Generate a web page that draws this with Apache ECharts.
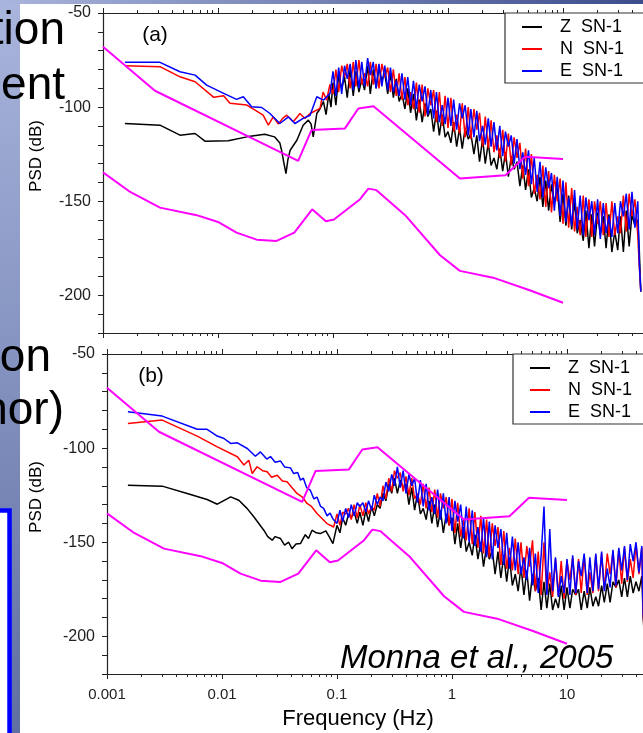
<!DOCTYPE html>
<html>
<head>
<meta charset="UTF-8">
<title>PSD SN-1</title>
<style>
  html, body { margin: 0; padding: 0; background: #fff; }
  #container { width: 643px; height: 733px; }
</style>
</head>
<body>
<div id="container"></div>
<script src="https://cdn.jsdelivr.net/npm/echarts@6/dist/echarts.min.js"></script>
<script>
// frequency samples (Hz) for the noisy part above 0.1 Hz
var hfFreq = [0.1,0.106,0.112,0.119,0.126,0.133,0.141,0.150,0.158,0.168,
  0.178,0.188,0.2,0.211,0.224,0.237,0.251,0.266,0.282,0.299,
  0.316,0.335,0.355,0.376,0.398,0.422,0.447,0.473,0.501,0.531,
  0.562,0.596,0.631,0.668,0.708,0.750,0.794,0.841,0.891,0.944,
  1.0,1.06,1.12,1.19,1.26,1.33,1.41,1.5,1.58,1.68,
  1.78,1.88,2.0,2.11,2.24,2.37,2.51,2.66,2.82,2.99,
  3.16,3.35,3.55,3.76,3.98,4.22,4.47,4.73,5.01,5.31,
  5.62,5.96,6.31,6.68,7.08,7.5,7.94,8.41,8.91,9.44,
  10,10.6,11.2,11.9,12.6,13.3,14.1,15,15.8,16.8,
  17.8,18.8,20,21.1,22.4,23.7,25.1,26.6,28.2,29.9,
  31.6,33.5,35.5,37.6,39.8,42.2,44.7,46.0,47.5];

// (a) low-frequency part [Hz, dB]
var zLowA = [[0.00155,-108.7],[0.00313,-109.6],[0.00467,-114.9],[0.00632,-114],[0.0077,-118.1],[0.0123,-117.9],[0.0178,-115.8],[0.0255,-114.4],[0.031,-115.8],[0.0345,-119],[0.0357,-122.9],[0.0375,-130],[0.039,-135.3],[0.0405,-128],[0.0424,-122.9],[0.0485,-117.6],[0.055,-109.6],[0.061,-106.9],[0.0645,-109],[0.0673,-115.8],[0.0723,-103.4],[0.077,-101],[0.0825,-97],[0.087,-104],[0.092,-93],[0.096,-100]];
var nLowA = [[0.00155,-78],[0.00313,-78.5],[0.00467,-83.9],[0.00632,-86.5],[0.0092,-94.8],[0.0112,-94],[0.0127,-98],[0.0178,-98.9],[0.021,-101.6],[0.0247,-104.3],[0.0274,-109.6],[0.0302,-105.2],[0.0335,-109],[0.0365,-106],[0.0396,-104.3],[0.0452,-107.8],[0.0516,-103.4],[0.057,-106],[0.0632,-103.4],[0.0771,-100.7],[0.082,-92],[0.088,-96.3],[0.094,-88]];
var eLowA = [[0.00155,-76.2],[0.00313,-76.2],[0.00467,-81.2],[0.00632,-83],[0.00797,-88.3],[0.0112,-92.7],[0.0145,-95.9],[0.0166,-94.5],[0.0196,-99.8],[0.024,-100.2],[0.0283,-103.4],[0.0345,-108.7],[0.041,-105.2],[0.0467,-108.7],[0.055,-106],[0.0632,-104.3],[0.0723,-94.5],[0.0825,-96.3],[0.0942,-92.7]];

// (a) values at hfFreq
var zA = [-87,-99,-83,-90,-84,-95,-80,-94,-81,-92,
  -85,-91,-78,-93,-80,-90,-79,-86,-82,-93,
  -82,-95,-85,-97,-93,-101,-90,-103,-93,-107,
  -96,-108,-98,-105,-101,-113,-102,-115,-104,-116,
  -113,-119,-108,-121,-111,-122,-111,-117,-114,-125,
  -115,-129,-117,-130,-119,-131,-127,-133,-122,-134,
  -124,-137,-126,-133,-129,-142,-131,-144,-133,-148,
  -143,-150,-137,-153,-139,-155,-141,-151,-143,-161,
  -146,-163,-147,-165,-150,-167,-160,-171,-155,-175,
  -157,-174,-156,-168,-158,-175,-157,-177,-166,-176,
  -158,-177,-155,-174,-157,-163,-160,-175,-198];
var nA = [-93,-80,-92,-78,-84,-77,-90,-76,-89,-75,
  -88,-82,-89,-76,-88,-77,-90,-77,-84,-79,
  -92,-80,-94,-82,-96,-84,-99,-92,-101,-87,
  -103,-88,-105,-90,-99,-91,-108,-92,-110,-94,
  -111,-95,-113,-104,-114,-98,-116,-100,-117,-101,
  -112,-103,-121,-105,-122,-107,-124,-115,-127,-112,
  -129,-114,-131,-116,-127,-119,-138,-122,-142,-125,
  -146,-136,-149,-131,-153,-134,-156,-136,-150,-138,
  -162,-140,-164,-143,-166,-153,-168,-147,-169,-149,
  -169,-150,-162,-150,-168,-151,-169,-150,-168,-158,
  -167,-147,-166,-146,-158,-149,-168,-184,-198];
var eA = [-81,-94,-79,-93,-78,-85,-77,-91,-75,-90,
  -76,-89,-74,-83,-76,-90,-77,-89,-78,-91,
  -79,-92,-86,-94,-82,-96,-84,-99,-86,-101,
  -88,-97,-89,-104,-91,-106,-92,-108,-99,-109,
  -95,-110,-96,-112,-98,-106,-99,-115,-101,-116,
  -102,-118,-110,-120,-106,-121,-108,-123,-110,-126,
  -113,-121,-115,-130,-117,-133,-124,-136,-123,-141,
  -127,-145,-129,-148,-132,-143,-135,-155,-137,-158,
  -139,-161,-148,-163,-144,-165,-147,-168,-148,-160,
  -150,-168,-149,-170,-151,-167,-158,-169,-151,-167,
  -150,-158,-146,-165,-145,-164,-150,-182,-198];

// (b) low-frequency part [Hz, dB]
var zLowB = [[0.00152,-119.7],[0.00302,-120.2],[0.00498,-124.1],[0.00742,-127.3],[0.0091,-129.8],[0.0119,-125.9],[0.014,-127.7],[0.0165,-132],[0.0189,-136.5],[0.0231,-143.6],[0.025,-147],[0.0273,-148.9],[0.029,-147],[0.0322,-148],[0.035,-151.5],[0.038,-150],[0.0406,-153.4],[0.044,-151],[0.0481,-150.7],[0.053,-146],[0.0565,-148],[0.0607,-143.6],[0.066,-145],[0.0716,-145.4],[0.08,-144],[0.0855,-147],[0.0921,-150.7]];
var nLowB = [[0.00152,-86.9],[0.00302,-85.1],[0.00609,-93.6],[0.0091,-99.3],[0.0136,-104.6],[0.0155,-109],[0.0171,-106.4],[0.0183,-113.5],[0.0202,-109.9],[0.0225,-112],[0.0247,-112.6],[0.027,-115.5],[0.0302,-114.4],[0.0335,-117.5],[0.0368,-117.9],[0.04,-120.5],[0.0449,-124.1],[0.05,-126],[0.0549,-129.4],[0.06,-131],[0.067,-134.7],[0.073,-137],[0.0817,-140.1],[0.0935,-141.9]];
var eLowB = [[0.00152,-80.7],[0.00302,-83],[0.00609,-90],[0.00742,-90],[0.0091,-93.6],[0.0104,-94.9],[0.0119,-97.5],[0.0136,-97.2],[0.0166,-100.2],[0.0195,-104.3],[0.0216,-102],[0.0245,-105.8],[0.0264,-104.5],[0.029,-107.5],[0.0322,-106.8],[0.035,-110],[0.0394,-110.5],[0.042,-113.5],[0.0455,-113],[0.0481,-117],[0.051,-116],[0.0545,-121],[0.0587,-122.5],[0.063,-127],[0.067,-126],[0.072,-131],[0.0765,-132],[0.082,-136],[0.087,-134.5],[0.092,-137.5]];

// (b) values at hfFreq
var zB = [-141,-145,-137,-141,-135,-137,-134,-140,-134,-141,
  -133,-139,-131,-136,-130,-132,-124,-128,-119,-124,
  -116,-124,-117,-121,-119,-130,-121,-133,-124,-135,
  -132,-138,-128,-140,-130,-142,-133,-145,-135,-141,
  -137,-151,-140,-153,-142,-155,-150,-157,-146,-159,
  -150,-163,-152,-159,-154,-167,-155,-169,-157,-171,
  -158,-173,-167,-176,-163,-178,-165,-181,-167,-176,
  -169,-186,-171,-185,-172,-186,-180,-185,-173,-186,
  -174,-185,-175,-178,-175,-186,-176,-185,-174,-184,
  -179,-184,-173,-182,-172,-182,-171,-174,-170,-179,
  -169,-179,-168,-177,-171,-176,-168,-190,-205];
var nB = [-135,-141,-134,-135,-132,-138,-130,-137,-130,-136,
  -129,-135,-131,-133,-124,-131,-120,-127,-116,-123,
  -112,-116,-113,-123,-115,-125,-116,-127,-124,-130,
  -119,-132,-121,-134,-122,-137,-124,-132,-126,-141,
  -127,-145,-129,-147,-138,-149,-132,-151,-134,-153,
  -136,-156,-138,-158,-140,-152,-142,-162,-144,-164,
  -153,-165,-148,-167,-150,-169,-152,-163,-149,-176,
  -155,-178,-150,-177,-166,-179,-159,-178,-160,-180,
  -160,-170,-158,-178,-159,-177,-157,-178,-166,-177,
  -157,-176,-156,-175,-156,-167,-155,-174,-154,-172,
  -153,-171,-159,-169,-151,-167,-153,-189,-201];
var eB = [-140,-133,-139,-132,-137,-130,-136,-129,-131,-129,
  -134,-128,-133,-125,-130,-126,-128,-118,-123,-114,
  -120,-110,-121,-112,-124,-114,-120,-116,-129,-117,
  -131,-119,-133,-126,-135,-122,-138,-124,-140,-126,
  -144,-128,-139,-130,-148,-131,-150,-133,-152,-142,
  -155,-137,-158,-139,-159,-141,-153,-143,-162,-145,
  -164,-147,-165,-150,-167,-158,-170,-153,-173,-156,
  -177,-157,-131,-178,-143,-176,-158,-179,-168,-177,
  -159,-178,-157,-177,-160,-168,-156,-177,-158,-176,
  -156,-175,-155,-176,-164,-174,-154,-173,-153,-165,
  -152,-170,-151,-160,-150,-166,-152,-188,-200];

// noise models (magenta), same in both panels
var nlnm = [[0.001,-134.7],[0.00169,-144.7],[0.00313,-153.4],[0.00653,-157.4],[0.01,-161],[0.0145,-166.7],[0.0217,-170.4],[0.0323,-171.1],[0.0461,-166.7],[0.0659,-154.3],[0.0867,-160.6],[0.102,-159.7],[0.172,-148.9],[0.203,-143.3],[0.239,-144.1],[0.424,-157.4],[0.853,-178.7],[1.27,-187],[2.47,-190.6],[5.13,-197.3],[10,-203.9]];
var nhnm = [[0.001,-67.9],[0.00283,-91.3],[0.0498,-128.6],[0.065,-112.2],[0.127,-111.3],[0.166,-100.7],[0.225,-99.5],[1.27,-137.9],[3.16,-136.2],[4.67,-126.4],[10,-127.5]];

var legendNames = ['Z  SN-1', 'N  SN-1', 'E  SN-1'];
var yTicks = [-200, -150, -100, -50];

var FONT = '"Liberation Sans", Arial, sans-serif';
var AX = '#222';

function hfPairs(vals) {
  return hfFreq.map(function (f, i) { return [f, vals[i]]; });
}

function psd(name, k, data, color) {
  return {
    name: name, type: 'line', xAxisIndex: k * 2, yAxisIndex: k,
    data: data, symbol: 'none', showSymbol: false, silent: true,
    lineStyle: { color: color, width: 1.5 }, itemStyle: { color: color }
  };
}
function model(name, k, data) {
  return {
    name: name, type: 'line', xAxisIndex: k * 2, yAxisIndex: k,
    data: data, symbol: 'none', showSymbol: false, silent: true, z: 4,
    lineStyle: { color: '#ff00ff', width: 2 }
  };
}

function xAx(k, pos, labels) {
  return {
    type: 'log', logBase: 10, gridIndex: k, position: pos, min: 0.001, max: 100,
    axisLine: { lineStyle: { color: AX, width: 1.2 } },
    axisTick: { length: 5, lineStyle: { color: AX, width: 1 } },
    minorTick: { show: true, splitNumber: 9, length: 3, lineStyle: { color: AX, width: 1 } },
    splitLine: { show: false },
    axisLabel: { show: labels, fontSize: 15, color: AX, fontFamily: FONT, margin: 13 }
  };
}
function yAx(k) {
  return {
    type: 'value', gridIndex: k, min: -220, max: -50, interval: 10,
    axisLine: { show: true, lineStyle: { color: AX, width: 1.2 } },
    axisTick: { length: 5, lineStyle: { color: AX, width: 1 } },
    splitLine: { show: false },
    axisLabel: {
      fontSize: 16, color: AX, fontFamily: FONT, margin: 12,
      formatter: function (v) { return yTicks.indexOf(v) >= 0 ? String(v) : ''; }
    }
  };
}
function legend(left, top) {
  return {
    data: legendNames, orient: 'vertical', left: left, top: top,
    selectedMode: false, icon: 'rect', itemWidth: 20, itemHeight: 2, itemGap: 4,
    padding: [5, 24, 3, 17], borderColor: '#333', borderWidth: 1.2, backgroundColor: '#fff',
    textStyle: { fontSize: 18, color: '#000', fontFamily: FONT, padding: [0, 0, 0, 13] }
  };
}
function label(txt, x, y, size, extra) {
  var el = {
    type: 'text', x: x, y: y, z: 100,
    style: { text: txt, fill: '#000', fontSize: size, fontFamily: FONT,
      textAlign: 'center', textVerticalAlign: 'middle' }
  };
  if (extra) { for (var p in extra) { if (p === 'style') { for (var q in extra.style) el.style[q] = extra.style[q]; } else el[p] = extra[p]; } }
  return el;
}

var myChart = echarts.init(document.getElementById('container'), null, { renderer: 'canvas' });

var option = {
  backgroundColor: '#ffffff',
  animation: false,
  grid: [
    { left: 103, top: 13, width: 575, height: 320, outerBoundsMode: 'none', containLabel: false },
    { left: 107, top: 354, width: 575, height: 320, outerBoundsMode: 'none', containLabel: false }
  ],
  xAxis: [xAx(0, 'bottom', false), xAx(0, 'top', false), xAx(1, 'bottom', true), xAx(1, 'top', false)],
  yAxis: [yAx(0), yAx(1)],
  legend: [legend(505, 13), legend(513, 354)],
  series: [
    psd('Z  SN-1', 0, zLowA.concat(hfPairs(zA)), '#000000'),
    psd('N  SN-1', 0, nLowA.concat(hfPairs(nA)), '#ff0000'),
    psd('E  SN-1', 0, eLowA.concat(hfPairs(eA)), '#0000ff'),
    model('NLNM', 0, nlnm),
    model('NHNM', 0, nhnm),
    psd('Z  SN-1', 1, zLowB.concat(hfPairs(zB)), '#000000'),
    psd('N  SN-1', 1, nLowB.concat(hfPairs(nB)), '#ff0000'),
    psd('E  SN-1', 1, eLowB.concat(hfPairs(eB)), '#0000ff'),
    model('NLNM', 1, nlnm),
    model('NHNM', 1, nhnm)
  ],
  graphic: [
    // slide background round the figure
    { type: 'rect', z: 50, shape: { x: 0, y: 0, width: 20, height: 733 },
      style: { fill: new echarts.graphic.LinearGradient(0, 0, 0, 1, [{ offset: 0, color: '#a9b5dc' }, { offset: 1, color: '#5f6fa3' }]) } },
    { type: 'rect', z: 50, shape: { x: 0, y: 0, width: 643, height: 4 },
      style: { fill: new echarts.graphic.LinearGradient(0, 0, 1, 0, [{ offset: 0, color: '#a9b5dc' }, { offset: 1, color: '#3d4d8c' }]) } },
    { type: 'rect', z: 51, shape: { x: -20, y: 510.5, width: 29.5, height: 240 },
      style: { fill: '#ffffff', stroke: '#0000ff', lineWidth: 4.5 } },
    // slide text cut off on the left
    label('tion', 65, 31, 46, { style: { textAlign: 'right' } }),
    label('ent', 65, 86, 46, { style: { textAlign: 'right' } }),
    label('on', 51, 358, 46, { style: { textAlign: 'right' } }),
    label('nor)', 64, 411, 46, { style: { textAlign: 'right' } }),
    // figure texts
    label('(a)', 155, 35, 21),
    label('(b)', 151, 376, 21),
    label('PSD (dB)', 36, 156, 17, { rotation: Math.PI / 2 }),
    label('PSD (dB)', 36, 497, 17, { rotation: Math.PI / 2 }),
    label('Frequency (Hz)', 358, 719, 22),
    label('Monna et al., 2005', 340, 659, 33, { style: { textAlign: 'left', fontStyle: 'italic' } })
  ]
};

myChart.setOption(option);
</script>
</body>
</html>
